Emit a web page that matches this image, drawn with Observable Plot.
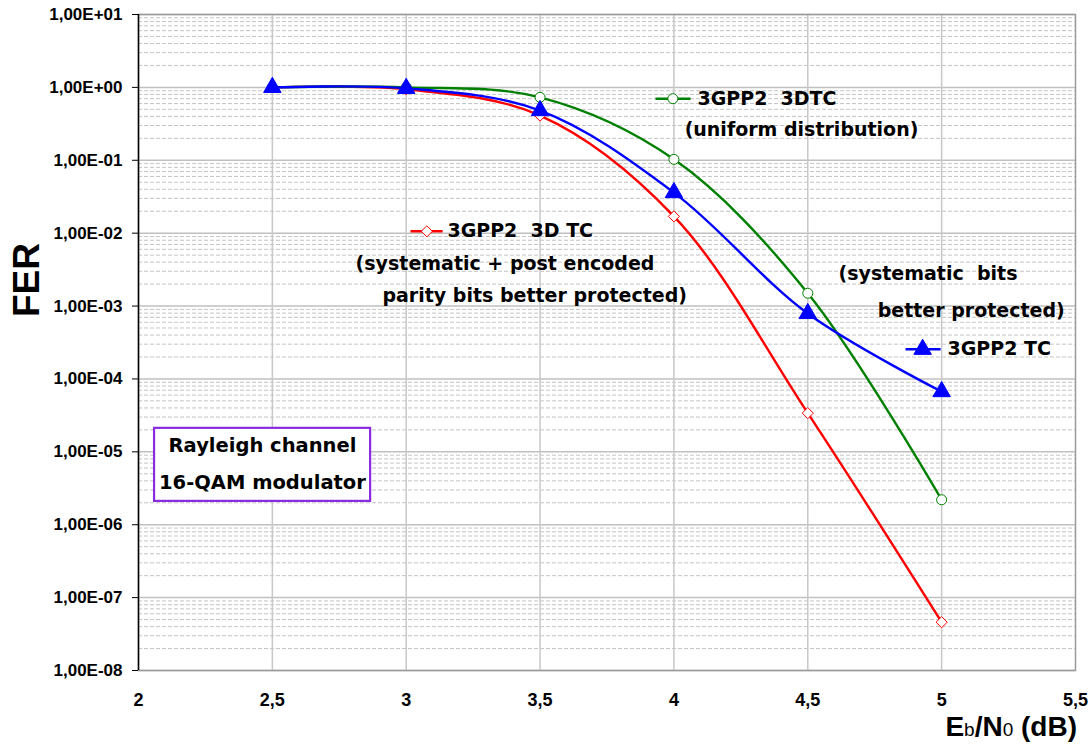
<!DOCTYPE html>
<html>
<head>
<meta charset="utf-8">
<script src="https://cdn.jsdelivr.net/npm/d3@7"></script>
<script src="https://cdn.jsdelivr.net/npm/@observablehq/plot@0.6"></script>
<style>
  body { margin: 0; background: #fff; }
  #chart svg { display: block; }
</style>
</head>
<body>
<div id="chart"></div>
<script>
// ---- data ----
const ebn0 = [2.5, 3, 3.5, 4, 4.5, 5];
const fer3DTCpost = [1.0, 0.94, 0.41, 0.017, 3.4e-5, 4.6e-8];     // 3GPP2 3D TC (systematic + post encoded parity better protected)
const fer3DTCuniform = [1.0, 1.0, 0.73, 0.103, 1.5e-3, 2.2e-6];   // 3GPP2 3DTC (uniform distribution)
const fer3GPP2TC = [1.0, 0.97, 0.48, 0.036, 7.9e-4, 6.7e-5];      // 3GPP2 TC (systematic bits better protected)
const xTicks = [2, 2.5, 3, 3.5, 4, 4.5, 5, 5.5];
const yTicks = [1e1, 1e0, 1e-1, 1e-2, 1e-3, 1e-4, 1e-5, 1e-6, 1e-7, 1e-8];

const series = [
  {name: "3D TC post", ys: fer3DTCpost, color: "#ff0000", symbol: "diamond2", fill: "white", r: 5},
  {name: "3DTC uniform", ys: fer3DTCuniform, color: "#008000", symbol: "circle", fill: "white", r: 5},
  {name: "3GPP2 TC", ys: fer3GPP2TC, color: "#0000ff", symbol: "triangle", fill: "#0000ff", r: 6.5}
];
const rows = series.flatMap(s => ebn0.map((x, i) => ({x, y: s.ys[i], name: s.name})));

// minor grid values (2..9 per decade)
const minor = [];
for (let e = -8; e <= 0; e++) for (let m = 2; m <= 9; m++) minor.push(m * Math.pow(10, e));

const fmtY = d => {
  const e = Math.round(Math.log10(d));
  const s = e < 0 ? "-" : "+";
  return "1,00E" + s + String(Math.abs(e)).padStart(2, "0");
};
const fmtX = d => String(d).replace(".", ",");

// annotation texts
const notes = [
  {x: 4.088, y: 0.70, text: "3GPP2  3DTC"},
  {x: 4.040, y: 0.257, text: "(uniform distribution)"},
  {x: 3.154, y: 0.0106, text: "3GPP2  3D TC"},
  {x: 2.811, y: 0.00373, text: "(systematic + post encoded"},
  {x: 2.911, y: 0.00136, text: "parity bits better protected)"},
  {x: 4.615, y: 0.00272, text: "(systematic  bits"},
  {x: 4.761, y: 0.000846, text: "better protected)"},
  {x: 5.022, y: 0.000255, text: "3GPP2 TC"}
];
const legendLines = [
  {x1: 3.931, x2: 4.062, y: 0.70, xm: 3.996, color: "#008000", symbol: "circle", fill: "white", r: 5},
  {x1: 3.016, x2: 3.136, y: 0.0106, xm: 3.077, color: "#ff0000", symbol: "diamond2", fill: "white", r: 5},
  {x1: 4.865, x2: 4.996, y: 0.000255, xm: 4.929, color: "#0000ff", symbol: "triangle", fill: "#0000ff", r: 6.5}
];
const boxLines = [
  {x: 2.463, y: 1.23e-5, text: "Rayleigh channel"},
  {x: 2.463, y: 3.82e-6, text: "16-QAM modulator"}
];

const annoFont = "'DejaVu Sans', 'Liberation Sans', sans-serif";

const marks = [
  Plot.ruleY(minor, {stroke: "#c4c4c4", strokeDasharray: "4,2"}),
  Plot.ruleY(yTicks, {stroke: "#c0c0c0", strokeWidth: 1.5}),
  Plot.ruleX(xTicks.slice(1, -1), {stroke: "#c8c8c8", strokeWidth: 1.5}),
  Plot.frame({stroke: "#9a9a9a", strokeWidth: 1.5}),
  Plot.ruleX([2], {stroke: "#000", strokeWidth: 1.5}),
  Plot.axisY({ticks: yTicks, tickFormat: fmtY, tickSize: 6, tickPadding: 10, label: null, fontSize: 17, fontWeight: "bold"}),
  Plot.axisX({ticks: xTicks, tickFormat: fmtX, tickSize: 0, tickPadding: 23, label: null, fontSize: 18, fontWeight: "bold"}),
];
for (const s of series) {
  const d = rows.filter(r => r.name === s.name);
  marks.push(Plot.line(d, {x: "x", y: "y", stroke: s.color, strokeWidth: 2.4, curve: "catmull-rom"}));
}
for (const s of series) {
  const d = rows.filter(r => r.name === s.name);
  marks.push(Plot.dot(d, {x: "x", y: "y", symbol: () => s.symbol, stroke: s.color, fill: s.fill, r: s.r, strokeWidth: 1}));
}
// legend samples
for (const l of legendLines) {
  marks.push(Plot.link([l], {x1: "x1", x2: "x2", y1: "y", y2: "y", stroke: l.color, strokeWidth: 2.4}));
  marks.push(Plot.dot([l], {x: "xm", y: "y", symbol: () => l.symbol, stroke: l.color, fill: l.fill, r: l.r, strokeWidth: 1}));
}
marks.push(Plot.text(notes, {x: "x", y: "y", text: "text", textAnchor: "start", fontSize: 19, fontWeight: "bold", fill: "#000", fontFamily: annoFont}));
// info box
marks.push(Plot.rect([{x1: 2.060, x2: 2.867, y1: 2.1e-5, y2: 2.09e-6}], {x1: "x1", x2: "x2", y1: "y1", y2: "y2", fill: "white", stroke: "#8a2be2", strokeWidth: 2.2}));
marks.push(Plot.text(boxLines, {x: "x", y: "y", text: "text", fontSize: 19.5, fontWeight: "bold", fill: "#000", fontFamily: annoFont}));

const svg = Plot.plot({
  width: 1090,
  height: 744,
  marginLeft: 138,
  marginRight: 15,
  marginTop: 14,
  marginBottom: 74,
  style: {fontFamily: "'Liberation Sans', Arial, sans-serif", fontSize: "16px", fontWeight: "bold", color: "#000", background: "#fff"},
  x: {domain: [2, 5.5]},
  y: {type: "log", domain: [1e-8, 10]},
  marks
});

const g = d3.select(svg);
g.append("text")
  .attr("transform", "translate(39,280) rotate(-90)")
  .attr("text-anchor", "middle")
  .style("font-size", "37px").style("font-weight", "bold").style("fill", "#000")
  .text("FER");
const xl = g.append("text")
  .attr("x", 1077).attr("y", 736)
  .attr("text-anchor", "end")
  .style("font-size", "28px").style("font-weight", "bold").style("fill", "#000");
xl.append("tspan").text("E");
xl.append("tspan").style("font-size", "19px").style("font-weight", "normal").text("b");
xl.append("tspan").text("/N");
xl.append("tspan").style("font-size", "19px").style("font-weight", "normal").text("0");
xl.append("tspan").text(" (dB)");

document.getElementById("chart").appendChild(svg);
</script>
</body>
</html>
